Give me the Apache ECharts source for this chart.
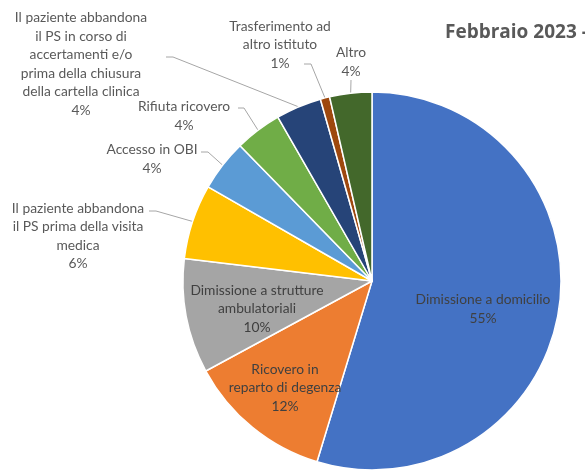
<!DOCTYPE html>
<html><head><meta charset="utf-8">
<script src="https://cdn.jsdelivr.net/npm/echarts@6/dist/echarts.min.js"></script>
<style>html,body{margin:0;padding:0;background:#fff}#c{width:585px;height:473px}</style>
</head><body><div id="c"></div>
<script>
const categories = [
  "Dimissione a domicilio",
  "Ricovero in\nreparto di degenza",
  "Dimissione a strutture\nambulatoriali",
  "Il paziente abbandona\nil PS prima della visita\nmedica",
  "Accesso in OBI",
  "Rifiuta ricovero",
  "Il paziente abbandona\nil PS in corso di\naccertamenti e/o\nprima della chiusura\ndella cartella clinica",
  "Trasferimento ad\naltro istituto",
  "Altro"
];
const values = [54.7, 12.4, 9.8, 6.4, 4.4, 4.0, 3.9, 0.8, 3.6];
const colors = ["#4472C4","#ED7D31","#A5A5A5","#FFC000","#5B9BD5","#70AD47","#264478","#9E480E","#43682B"];
const title = "Febbraio 2023 -";

// label placement (layout only): text-block centre, and leader-line attach point at the text
const labelPos = [
  [483, 309], [285, 388], [257, 309], [78, 236], [152, 159], [184, 116], [81, 64], [280, 45], [351, 62]
];
const leaderAttach = [null, null, null, [149, 211], [201, 152], [238, 108], [166, 57], [304, 64], [351, 80]];
const leaderHorizontal = [0, 0, 0, 7, 7, 6, 7, 7, 0];
const insideIdx = [0, 1, 2];

const chart = echarts.init(document.getElementById('c'), null, {renderer: 'canvas'});
const FONT = 'Lato, "Noto Sans", sans-serif';
chart.setOption({
  animation: false,
  title: {
    text: title, left: 440, top: 18,
    textStyle: {fontFamily: '"Open Sans", "Noto Sans", sans-serif', fontSize: 19, fontWeight: 'bold', color: '#595959'}
  },
  series: [{
    type: 'pie',
    center: [372, 281],
    radius: [0, 189],
    startAngle: 90,
    clockwise: true,
    itemStyle: {borderColor: '#fff', borderWidth: 1.5},
    label: {
      show: true,
      fontFamily: FONT, fontSize: 13.8, color: '#595959', lineHeight: 18.5, align: 'center',
      formatter: p => p.name + '\n' + Math.round(p.percent) + '%'
    },
    labelLine: {show: true, length: 10, length2: 8, lineStyle: {color: '#A6A6A6', width: 1}},
    labelLayout: function (params) {
      const i = params.dataIndex;
      const pos = labelPos[i];
      const out = {x: pos[0], y: pos[1], align: 'center', verticalAlign: 'middle'};
      const a = leaderAttach[i];
      if (a && params.labelLinePoints) {
        const edge = params.labelLinePoints[0];
        const h = leaderHorizontal[i];
        out.labelLinePoints = h ? [edge, [a[0] + h, a[1]], a] : [edge, a, a];
      }
      return out;
    },
    data: categories.map((c, i) => ({
      name: c, value: values[i],
      itemStyle: {color: colors[i]},
      label: insideIdx.includes(i) ? {position: 'inside', color: '#404040'} : {},
      labelLine: insideIdx.includes(i) ? {show: false} : {}
    }))
  }]
});
</script></body></html>
